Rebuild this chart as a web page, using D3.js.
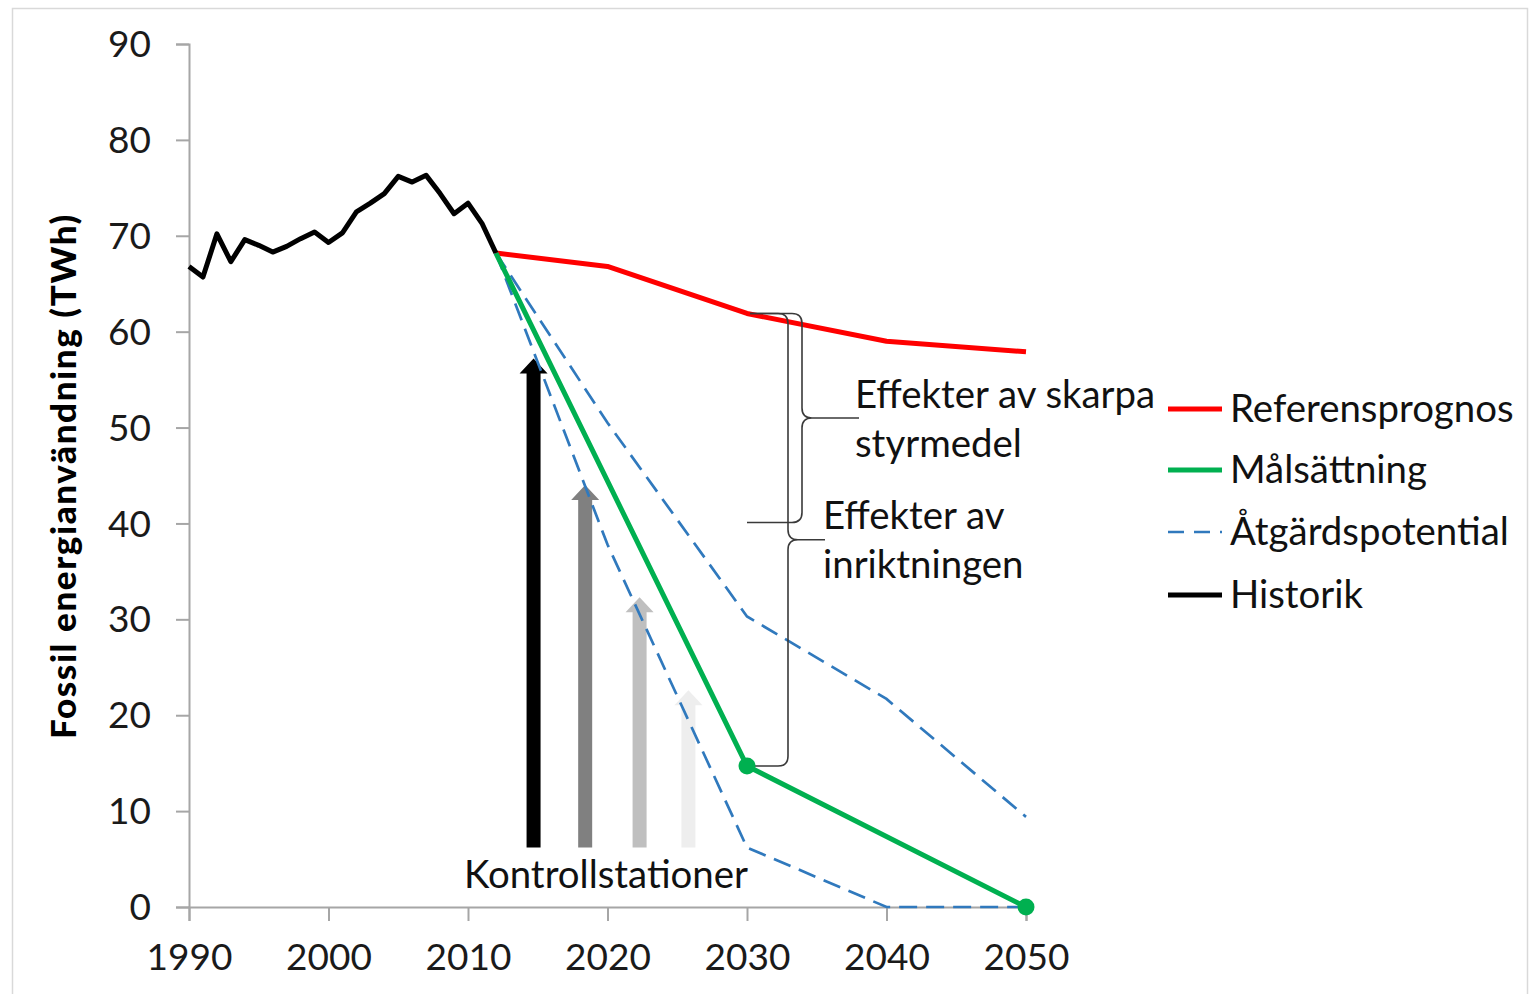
<!DOCTYPE html>
<html><head><meta charset="utf-8">
<script src="https://cdn.jsdelivr.net/npm/d3@7"></script>
<style>
html,body{margin:0;padding:0;background:#fff;}
svg{display:block;font-family:Lato, "Open Sans", sans-serif;}
</style></head>
<body>
<svg id="chart" width="1531" height="994"></svg>
<script>
// ---- data ----
const histYears = [1990,1991,1992,1993,1994,1995,1996,1997,1998,1999,2000,2001,2002,2003,2004,2005,2006,2007,2008,2009,2010,2011,2012];
const histValues = [66.8,65.7,70.2,67.3,69.6,69.0,68.3,68.9,69.7,70.4,69.3,70.3,72.5,73.4,74.4,76.2,75.6,76.3,74.4,72.3,73.4,71.3,68.2];
const refYears = [2012,2020,2030,2040,2050];
const refValues = [68.2,66.8,61.9,59.0,57.9];
const goalYears = [2012,2030,2050];
const goalValues = [68.2,14.7,0];
const goalMarkerYears = [2030,2050];
const goalMarkerValues = [14.7,0];
const potHighYears = [2012,2020,2030,2040,2050];
const potHighValues = [68.2,50.5,30.3,21.7,9.4];
const potLowYears = [2012,2020,2030,2040,2050];
const potLowValues = [68.2,37.8,6.2,0,0];
const arrowYears = [2014.7,2018.4,2022.3,2025.8];
const arrowTops = [57.2,44.0,32.3,22.6];
const arrowBase = 6.2;
const arrowColors = ["#000000","#808080","#bfbfbf","#eeeeee"];
const xTicks = [1990,2000,2010,2020,2030,2040,2050];
const yTicks = [0,10,20,30,40,50,60,70,80,90];
const legendLabels = ["Referensprognos","Målsättning","Åtgärdspotential","Historik"];
const legendColors = ["#ff0000","#00b050","#3079bd","#000000"];
const yTitle = "Fossil energianvändning (TWh)";

// ---- layout ----
const svg = d3.select("#chart");
const x = d3.scaleLinear().domain([1990,2050]).range([189,1026]);
const y = d3.scaleLinear().domain([0,90]).range([907,44]);
const FS = 37;
const TFS = 38.4;

// outer frame
svg.append("rect").attr("x",12.5).attr("y",8.5).attr("width",1515).attr("height",1000)
  .attr("fill","none").attr("stroke","#d9d9d9").attr("stroke-width",1.5);

// axes
const axisColor = "#a6a6a6";
const yAxis = d3.axisLeft(y).tickValues(yTicks).tickSize(13).tickPadding(25).tickFormat(d3.format("d"));
const gy = svg.append("g").attr("transform","translate(189,0)").call(yAxis);
const xAxis = d3.axisBottom(x).tickValues(xTicks).tickSize(14).tickPadding(23).tickFormat(d3.format("d"));
const gx = svg.append("g").attr("transform","translate(0,907)").call(xAxis);
[gx,gy].forEach(g=>{
  g.select(".domain").attr("stroke",axisColor).attr("stroke-width",2);
  g.selectAll(".tick line").attr("stroke",axisColor).attr("stroke-width",2);
  g.selectAll(".tick text").attr("fill","#1a1a1a").style("font-size",FS+"px").style("font-family","Lato");
});
gy.selectAll(".tick text").attr("dy","0.34em");

// y title
svg.append("text").attr("transform","translate(76,476) rotate(-90)")
  .attr("text-anchor","middle").style("font-size","35px").style("font-weight","900")
  .style("letter-spacing","1.6px")
  .attr("fill","#000").text(yTitle);

// arrows
const shaftW = 14, headW = 28, headH = 15;
arrowYears.forEach((yr,i)=>{
  const cx = x(yr), top = y(arrowTops[i]), bot = y(arrowBase);
  const p = d3.path();
  p.moveTo(cx-shaftW/2, bot);
  p.lineTo(cx-shaftW/2, top+headH);
  p.lineTo(cx-headW/2, top+headH);
  p.lineTo(cx, top);
  p.lineTo(cx+headW/2, top+headH);
  p.lineTo(cx+shaftW/2, top+headH);
  p.lineTo(cx+shaftW/2, bot);
  p.closePath();
  svg.append("path").attr("d",p.toString()).attr("fill",arrowColors[i]);
});

const line = d3.line().x(d=>x(d[0])).y(d=>y(d[1]));
const zip = (a,b)=>a.map((v,i)=>[v,b[i]]);

// potential dashed lines
[[potHighYears,potHighValues],[potLowYears,potLowValues]].forEach(([a,b])=>{
  svg.append("path").attr("d",line(zip(a,b))).attr("fill","none")
    .attr("stroke","#3079bd").attr("stroke-width",2.7).attr("stroke-dasharray","18,9");
});
// reference
svg.append("path").attr("d",line(zip(refYears,refValues))).attr("fill","none")
  .attr("stroke","#ff0000").attr("stroke-width",5).attr("stroke-linejoin","round");
// goal
svg.append("path").attr("d",line(zip(goalYears,goalValues))).attr("fill","none")
  .attr("stroke","#00b050").attr("stroke-width",5).attr("stroke-linejoin","round");
// history
svg.append("path").attr("d",line(zip(histYears,histValues))).attr("fill","none")
  .attr("stroke","#000").attr("stroke-width",5).attr("stroke-linejoin","round");

// braces
function brace(x0, yTop, yBot, spineX, tipX, x1){
  const r = 10, ym = (yTop+yBot)/2;
  const p = d3.path();
  p.moveTo(x0, yTop);
  p.lineTo(spineX-r, yTop);
  p.quadraticCurveTo(spineX, yTop, spineX, yTop+r);
  p.lineTo(spineX, ym-r);
  p.quadraticCurveTo(spineX, ym, spineX+r, ym);
  p.lineTo(tipX, ym);
  p.moveTo(spineX+r, ym);
  p.quadraticCurveTo(spineX, ym, spineX, ym+r);
  p.lineTo(spineX, yBot-r);
  p.quadraticCurveTo(spineX, yBot, spineX-r, yBot);
  p.lineTo(x1, yBot);
  return p.toString();
}
const bx = x(2030);
svg.append("path").attr("d",brace(bx+3, y(61.9), y(40.1), bx+55, bx+112, bx))
  .attr("fill","none").attr("stroke","#3a3a3a").attr("stroke-width",1.6);
svg.append("path").attr("d",brace(bx+3, y(61.9), y(14.7), bx+41, bx+78, bx+5))
  .attr("fill","none").attr("stroke","#3a3a3a").attr("stroke-width",1.6);

// goal markers
goalMarkerYears.forEach((yr,i)=>{
  svg.append("circle").attr("cx",x(yr)).attr("cy",y(goalMarkerValues[i])).attr("r",8.5).attr("fill","#00b050");
});

// annotations
function txt(str, tx, ty, anchor){
  svg.append("text").attr("x",tx).attr("y",ty).attr("text-anchor",anchor||"start")
    .style("font-size",TFS+"px").attr("fill","#111").text(str);
}
txt("Effekter av skarpa", 855, 408);
txt("styrmedel", 855, 457);
txt("Effekter av", 823, 529);
txt("inriktningen", 823, 578);
txt("Kontrollstationer", 606, 888, "middle");

// legend
const legY = [409,470,532,595];
legendLabels.forEach((lab,i)=>{
  const ln = svg.append("line").attr("x1",1168).attr("x2",1222).attr("y1",legY[i]).attr("y2",legY[i])
    .attr("stroke",legendColors[i]).attr("stroke-width", i===2?2.7:5);
  if(i===2) ln.attr("stroke-dasharray","16,10");
  txt(lab, 1230, legY[i]+13);
});
</script>
</body></html>
